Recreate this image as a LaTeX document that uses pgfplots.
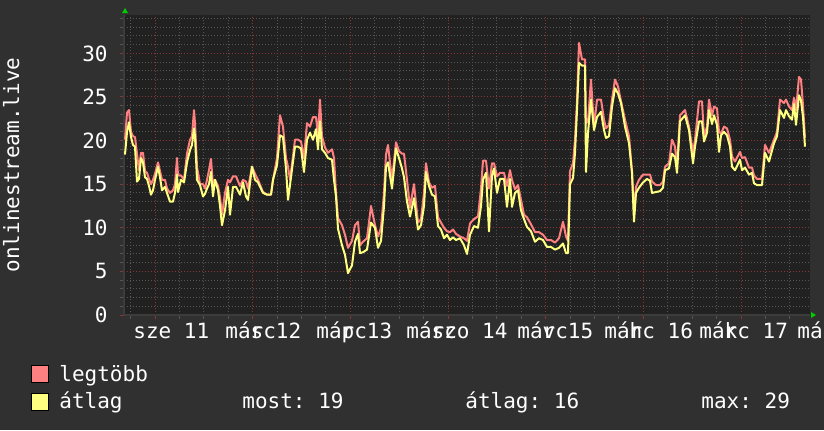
\documentclass[border=0pt]{standalone}
\usepackage{pgfplots}
\pgfplotsset{compat=1.18}
\usepackage{pgfplotstable}
\usepackage{fontspec}
\setmainfont{DejaVu Sans Mono}
\setmonofont{DejaVu Sans Mono}
\frenchspacing

\definecolor{canvas}{HTML}{303030}
\definecolor{plotbg}{HTML}{212121}
\definecolor{mingrid}{HTML}{555555}
\definecolor{majgrid}{HTML}{8A3636}
\definecolor{axisgray}{HTML}{3C3C3C}
\definecolor{maxred}{HTML}{FF8080}
\definecolor{avgyel}{HTML}{FFFF80}
\definecolor{arrowgreen}{HTML}{00CC00}
\newcommand\fs{\fontsize{10.5pt}{12.6pt}\selectfont}

% x: pixel position on the time axis (day 11 at 155, one day = 97.67)
\pgfplotstableread{
px  max  avg
125 20.1 18.4
127 23.2 21.0
129 23.5 22.1
131 21.0 20.4
133 20.5 19.5
135 20.4 19.3
137 18.5 15.3
139 16.6 15.6
141 18.6 18.0
143 18.6 17.5
145 16.5 15.8
147 16.3 15.6
149 15.6 14.8
151 15.0 13.8
153 15.5 14.3
155 16.2 15.5
158 17.5 17.0
160 16.5 15.8
162 15.5 14.3
165 15.5 14.7
167 14.5 14.0
170 14.0 13.0
173 14.3 13.0
175 15.0 14.0
177 18.0 16.1
178 16.0 14.1
181 16.0 15.5
184 15.5 15.2
187 18.5 17.5
190 20.1 18.9
192 20.5 19.5
194 23.5 21.4
195 22.0 20.5
197 17.0 15.5
200 15.0 14.9
203 15.0 13.6
205 14.5 13.9
207 15.5 14.5
209 16.6 15.0
211 17.9 16.4
213 14.8 13.6
215 15.5 15.5
218 14.8 14.3
220 13.5 12.5
222 11.5 10.3
225 14.0 12.0
228 15.5 14.7
230 15.2 11.5
233 15.9 14.7
236 15.9 14.7
240 14.8 13.8
243 15.5 15.2
246 15.3 13.6
248 14.5 13.2
252 17.0 17.0
255 16.2 15.5
258 15.5 15.2
263 14.1 14.0
267 13.8 13.8
271 13.8 13.8
273 15.5 15.5
277 18.0 17.2
280 22.9 20.6
283 21.6 20.4
286 18.0 16.8
288 17.0 13.2
290 15.5 14.9
293 18.2 17.6
295 20.1 19.3
298 20.1 19.3
301 19.9 19.1
304 18.0 16.4
307 22.0 20.1
310 21.6 20.9
313 22.7 20.1
316 22.7 21.3
318 20.5 19.0
320 24.7 22.2
322 20.5 19.0
325 19.2 18.6
328 18.6 18.0
332 19.0 17.8
334 18.0 15.5
336 14.0 13.6
338 11.1 9.9
342 10.3 8.0
345 9.2 6.9
348 7.7 4.8
352 8.5 5.7
355 10.3 8.4
358 10.7 9.3
360 8.0 7.1
363 8.4 7.2
367 8.8 7.5
371 12.5 10.6
375 10.3 10.0
378 9.0 7.7
381 10.0 8.5
384 14.0 12.5
386 18.4 17.0
388 19.5 17.5
392 15.5 14.5
396 19.8 19.1
399 18.8 18.0
402 18.5 16.8
404 18.5 15.8
407 15.5 13.0
410 12.3 11.3
414 15.0 13.4
418 10.6 9.8
421 11.0 10.3
424 14.0 12.5
426 17.4 16.4
429 15.2 14.8
432 14.6 13.8
435 14.8 13.6
438 11.2 10.2
441 10.6 9.8
444 10.0 8.8
447 9.6 9.2
450 9.5 8.6
453 9.8 8.9
456 9.3 8.6
460 9.0 8.8
464 8.8 8.0
467 8.5 7.0
470 10.5 9.2
474 11.0 10.2
478 11.3 10.0
481 14.5 12.5
483 17.7 15.5
486 17.7 16.3
489 14.5 9.6
492 17.4 16.0
494 17.4 16.8
497 15.9 14.0
500 16.3 15.6
504 16.3 15.6
507 14.8 12.4
510 16.6 15.6
512 15.5 12.4
515 14.4 14.0
518 14.9 14.3
521 13.2 12.0
524 11.5 11.0
527 11.2 10.1
531 10.4 9.6
535 9.5 8.4
539 9.5 8.8
543 9.2 8.6
547 8.6 7.8
551 8.6 7.8
555 8.3 7.5
559 8.8 7.7
563 10.7 8.2
566 9.0 7.1
568 8.5 7.1
570 16.5 15.0
573 17.4 15.7
575 20.1 18.6
577 24.5 23.5
579 31.2 28.9
582 29.3 28.6
585 29.3 28.6
586 22.0 16.4
588 22.2 20.9
591 27.0 24.7
594 21.5 21.2
597 24.7 22.7
601 24.7 23.3
604 22.4 21.2
606 21.4 20.3
609 21.8 20.5
612 24.7 23.9
615 27.0 26.0
618 26.2 25.4
621 24.5 24.3
625 22.4 21.6
629 20.5 19.7
632 16.5 16.3
634 11.5 10.7
636 14.7 14.0
639 15.5 14.6
643 16.1 15.2
647 16.1 15.6
650 16.1 15.4
652 15.3 14.0
656 14.9 14.1
660 14.9 14.2
663 15.3 14.6
665 17.0 16.6
669 17.4 16.8
672 20.1 18.5
675 19.3 18.1
677 17.0 16.3
680 22.9 22.2
685 23.5 22.9
689 21.6 21.2
693 18.6 17.4
695 20.1 19.3
699 24.5 22.2
702 24.5 22.2
704 20.5 19.9
707 21.6 20.9
709 24.7 23.5
712 22.9 21.9
714 23.9 22.9
717 23.7 21.8
719 21.0 18.7
721 20.8 20.6
724 21.6 21.0
727 21.4 20.6
730 20.1 19.3
732 18.2 17.0
735 17.6 16.6
740 18.7 17.8
742 18.0 16.6
745 18.1 16.9
749 16.9 16.1
752 16.9 16.3
754 16.0 15.1
757 15.6 14.9
762 15.6 14.9
765 19.5 18.6
769 18.6 17.6
774 20.1 19.7
777 21.0 20.5
780 24.7 23.5
784 24.3 22.6
786 24.7 23.5
789 23.9 22.8
792 23.5 22.4
794 24.9 24.2
796 23.5 21.8
799 27.3 25.2
801 27.0 24.6
803 24.0 22.7
805 20.3 19.3
}\stream

\begin{document}
\begin{tikzpicture}[font=\fs]
\fill[canvas] (0pt,0pt) rectangle (412pt,215pt);
\begin{axis}[
    at={(62pt,57.5pt)}, anchor=south west,
    scale only axis, width=343pt, height=150pt,
    xmin=124, xmax=810, ymin=0, ymax=34.4,
    axis x line*=bottom, axis y line*=left,
    axis line style={draw=axisgray, line width=1pt, -},
    axis background/.style={fill=plotbg},
    xtick={155,252.67,350.33,448,545.67,643.33,741},
    minor xtick={130.58,179.42,203.83,228.25,277.08,301.5,325.92,374.75,399.17,423.58,472.42,496.83,521.25,570.08,594.5,618.92,667.75,692.17,716.58,765.42,789.83},
    xticklabels={},
    ytick={0,5,...,30},
    minor ytick={1,2,3,4,6,7,8,9,11,12,13,14,16,17,18,19,21,22,23,24,26,27,28,29,31,32,33,34},
    xmajorgrids, xminorgrids, ymajorgrids, yminorgrids,
    major grid style={draw=majgrid, line width=0.5pt, dash pattern=on 0.5pt off 1pt},
    minor grid style={draw=mingrid, line width=0.5pt, dash pattern=on 0.5pt off 1pt},
    tick align=outside,
    major tick length=2pt, minor tick length=2pt,
    major tick style={draw=majgrid, line width=0.5pt},
    minor tick style={draw=mingrid, line width=0.5pt},
    /pgf/number format/assume math mode=true,
    yticklabel style={font=\fs, text=white, inner sep=0pt, xshift=-6pt},
]
\addplot[sharp plot, draw=maxred, line width=1pt, line join=round] table[x=px, y=max] {\stream};
\addplot[sharp plot, draw=avgyel, line width=1pt, line join=round] table[x=px, y=avg] {\stream};
\end{axis}

% axis arrows
\fill[arrowgreen] (61pt,208.5pt) -- (64pt,208.5pt) -- (62.5pt,211pt) -- cycle;
\fill[arrowgreen] (405.5pt,56pt) -- (405.5pt,59pt) -- (408pt,57.5pt) -- cycle;

% y axis title
\node[rotate=90, anchor=base, inner sep=0pt, text=white] at (9.5pt,132.5pt) {onlinestream.live};

% x labels (overlapping as in the original)
\begin{scope}[every node/.style={anchor=base west, inner sep=0pt, text=white}]
\node at (66.5pt,46pt) {sze 11};
\node at (112.5pt,46pt) {má\rlap{s}rc12};
\node at (158pt,46pt) {má\rlap{p}rc13};
\node at (203pt,46pt) {má\rlap{s}r\rlap{z}co 14};
\node at (258.5pt,46pt) {má\rlap{v}rc15};
\node at (302pt,46pt) {má\rlap{h}rc 16};
\node at (349.5pt,46pt) {má\rlap{k}rc 17};
\node at (398.5pt,46pt) {má};
\end{scope}

% legend
\filldraw[fill=maxred, draw=black, line width=0.5pt] (15.5pt,24pt) rectangle (24pt,32.5pt);
\filldraw[fill=avgyel, draw=black, line width=0.5pt] (15.5pt,10pt) rectangle (24pt,18.5pt);
\begin{scope}[every node/.style={anchor=base west, inner sep=0pt, text=white}]
\node at (29.5pt,24.5pt) {legtöbb};
\node at (29.5pt,11pt) {átlag};
\node at (121pt,11pt) {most: 19};
\node at (232.5pt,11pt) {átlag: 16};
\node at (350.5pt,11pt) {max: 29};
\end{scope}

\pgfresetboundingbox
\useasboundingbox (0pt,0pt) rectangle (412pt,215pt);
\end{tikzpicture}
\end{document}
